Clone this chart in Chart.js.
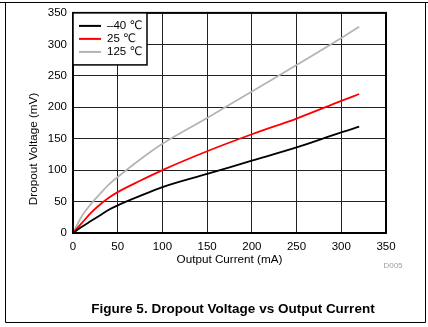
<!DOCTYPE html>
<html lang="en">
  <head>
    <meta charset="UTF-8" />
    <title>Dropout Voltage vs Output Current</title>
    <style>
      html, body { margin: 0; padding: 0; background: #fff; }
      #wrap { width: 428px; height: 327px; }
    </style>
  </head>
  <body>
    <div id="wrap"><canvas id="lineChart"></canvas></div>
    <script src="https://cdn.jsdelivr.net/npm/chart.js"></script>
    <script>
      // values
      const currentMa = [0, 5, 10, 20, 30, 40, 50, 75, 100, 150, 200, 250, 300, 320];
      const minus40 = [0, 5, 10, 19, 28, 37, 44, 59, 73, 94, 115, 136, 160, 169];
      const room25 = [0, 8, 16, 32, 45, 56, 65, 83, 100, 130, 157, 182, 210, 221];
      const hot125 = [0, 14, 27, 46, 62, 77, 89, 117, 142, 183, 225, 267, 310, 328];
      const seriesLabels = ["\u201340 \u2103", "25 \u2103", "125 \u2103"];

      const FONT = "'Liberation Sans', Arial, 'DejaVu Sans', sans-serif";
      Chart.defaults.font.family = FONT;
      Chart.defaults.color = "#000";

      const pts = (ys) => currentMa.map((x, i) => ({ x: x, y: ys[i] }));

      // frame, legend box, titles and caption
      const extras = {
        id: "extras",
        afterDraw(chart) {
          const ctx = chart.ctx;
          const a = chart.chartArea;
          ctx.save();
          ctx.strokeStyle = "#000";
          ctx.lineWidth = 2;
          ctx.strokeRect(a.left, a.top, a.right - a.left, a.bottom - a.top);

          // legend inside plot
          const lx = a.left, ly = a.top, lw = 74, lh = 52;
          ctx.fillStyle = "#fff";
          ctx.fillRect(lx, ly, lw, lh);
          ctx.lineWidth = 1.5;
          ctx.strokeRect(lx, ly, lw, lh);
          ctx.font = "11.5px " + FONT;
          ctx.textBaseline = "middle";
          chart.data.datasets.forEach((ds, i) => {
            const y = ly + 13 + i * 13;
            ctx.strokeStyle = ds.borderColor;
            ctx.lineWidth = 2;
            ctx.beginPath();
            ctx.moveTo(lx + 6, y);
            ctx.lineTo(lx + 28, y);
            ctx.stroke();
            ctx.fillStyle = "#000";
            ctx.textAlign = "left";
            ctx.fillText(ds.label, lx + 34, y);
          });

          // axis titles
          ctx.fillStyle = "#000";
          ctx.font = "11.7px " + FONT;
          ctx.textAlign = "center";
          ctx.fillText("Output Current (mA)", 229.5, 260);
          ctx.save();
          ctx.translate(34, 149);
          ctx.rotate(-Math.PI / 2);
          ctx.fillText("Dropout Voltage (mV)", 0, 0);
          ctx.restore();

          ctx.fillStyle = "#a0a0a0";
          ctx.font = "8px " + FONT;
          ctx.fillText("D005", 393, 266);

          ctx.fillStyle = "#000";
          ctx.font = "bold 13.5px " + FONT;
          ctx.fillText("Figure 5. Dropout Voltage vs Output Current", 233, 309);

          // outer frame
          ctx.strokeStyle = "#000";
          ctx.lineWidth = 1;
          ctx.beginPath();
          ctx.moveTo(0, 2.5);
          ctx.lineTo(428, 2.5);
          ctx.moveTo(5.5, 2.5);
          ctx.lineTo(5.5, 322.5);
          ctx.lineTo(425.5, 322.5);
          ctx.lineTo(425.5, 2.5);
          ctx.stroke();
          ctx.restore();
        },
      };

      new Chart(document.getElementById("lineChart"), {
        type: "line",
        data: {
          datasets: [
            { label: seriesLabels[0], data: pts(minus40), borderColor: "#000000" },
            { label: seriesLabels[1], data: pts(room25), borderColor: "#ff0000" },
            { label: seriesLabels[2], data: pts(hot125), borderColor: "#b4b4b4" },
          ],
        },
        options: {
          responsive: true,
          maintainAspectRatio: false,
          animation: false,
          layout: { padding: { top: 11, right: 42, left: 0, bottom: 0 } },
          elements: {
            point: { radius: 0 },
            line: { borderWidth: 1.8, cubicInterpolationMode: "monotone" },
          },
          plugins: { legend: { display: false }, tooltip: { enabled: false } },
          scales: {
            x: {
              type: "linear",
              min: 0,
              max: 350,
              ticks: { stepSize: 50, padding: 7, font: { size: 11.5 }, color: "#000" },
              grid: { color: "#222", lineWidth: 1, drawTicks: false },
              border: { display: false },
              afterFit: (s) => { s.height = 94; },
            },
            y: {
              min: 0,
              max: 350,
              ticks: { stepSize: 50, padding: 6, font: { size: 11.5 }, color: "#000" },
              grid: { color: "#222", lineWidth: 1, drawTicks: false },
              border: { display: false },
              afterFit: (s) => { s.width = 73; },
            },
          },
        },
        plugins: [extras],
      });
    </script>
  </body>
</html>
